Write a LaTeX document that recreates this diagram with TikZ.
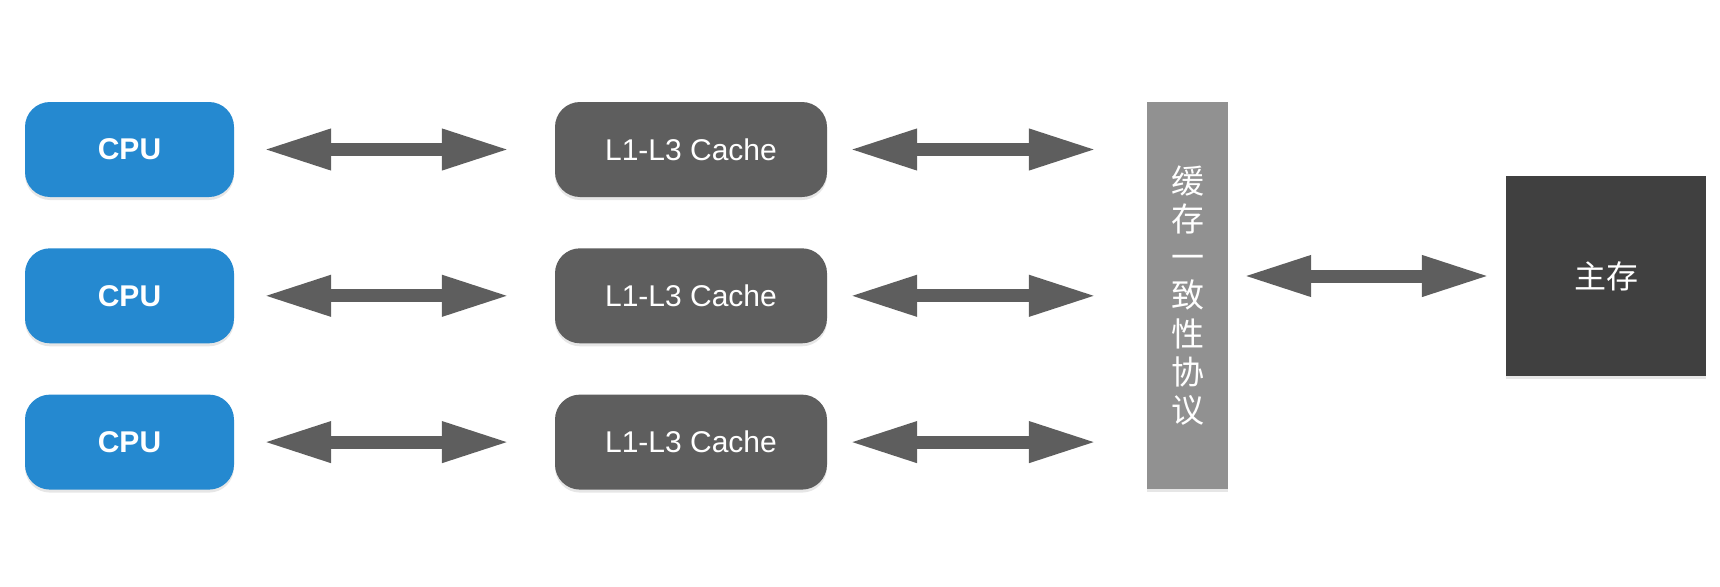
\documentclass[tikz,border=0pt]{standalone}
\usepackage{fontspec}
\setmainfont{Liberation Sans}
\newfontfamily\cjk{Noto Sans CJK SC}
\usetikzlibrary{arrows.meta,shadows}
\definecolor{cpublue}{RGB}{37,137,208}
\definecolor{cachegray}{RGB}{94,94,94}
\definecolor{bargray}{RGB}{145,145,145}
\definecolor{memgray}{RGB}{64,64,64}
\tikzset{
    SH/.style ={drop shadow={opacity=.2,shadow xshift=0pt,shadow yshift=-3pt}},
    CP/.style ={rectangle,rounded corners=25pt,minimum width=209pt,minimum height=95pt,fill=cpublue,text=white,font=\bfseries\fontsize{30}{36}\selectfont,SH},
    CA/.style ={rectangle,rounded corners=25pt,minimum width=272pt,minimum height=95pt,fill=cachegray,text=white,font=\fontsize{30}{36}\selectfont,SH},
    BA/.style ={rectangle,minimum width=81pt,minimum height=387pt,fill=bargray,text=white,align=center,font=\cjk\fontsize{33}{38.2}\selectfont,SH},
    MM/.style ={rectangle,minimum width=200pt,minimum height=200pt,fill=memgray,text=white,font=\cjk\fontsize{32}{36}\selectfont,SH},
    DA/.style ={draw=cachegray,line width=13pt,{Triangle[length=68pt,width=38pt]}-{Triangle[length=68pt,width=38pt]}}
}
\begin{document}
\begin{tikzpicture}[x=1pt,y=-1pt]
        \useasboundingbox (0,0) rectangle (1720,586);
        \node[BA] (bar) at (1187.5,295.5) {缓\\存\\一\\致\\性\\协\\议};
        \node[MM] (mem) at (1606,276) {主存};
        \foreach \i in {1,2,3}{
            \pgfmathsetmacro{\yy}{149.5+(\i-1)*146.3}
            \node[CP] (cpu\i) at (129.5,\yy) {CPU};
            \node[CA] (cache\i) at (691,\yy) {L1-L3 Cache};
            \draw[DA] ([xshift=29pt]cpu\i.east) -- ([xshift=-45pt]cache\i.west);
            \draw[DA] ([xshift=22pt]cache\i.east) -- ([xshift=-50pt]cache\i.east -| bar.west);
        }
        \draw[DA] ([xshift=15pt]bar.east |- mem.west) -- ([xshift=-16pt]mem.west);
    \end{tikzpicture}
\end{document}
